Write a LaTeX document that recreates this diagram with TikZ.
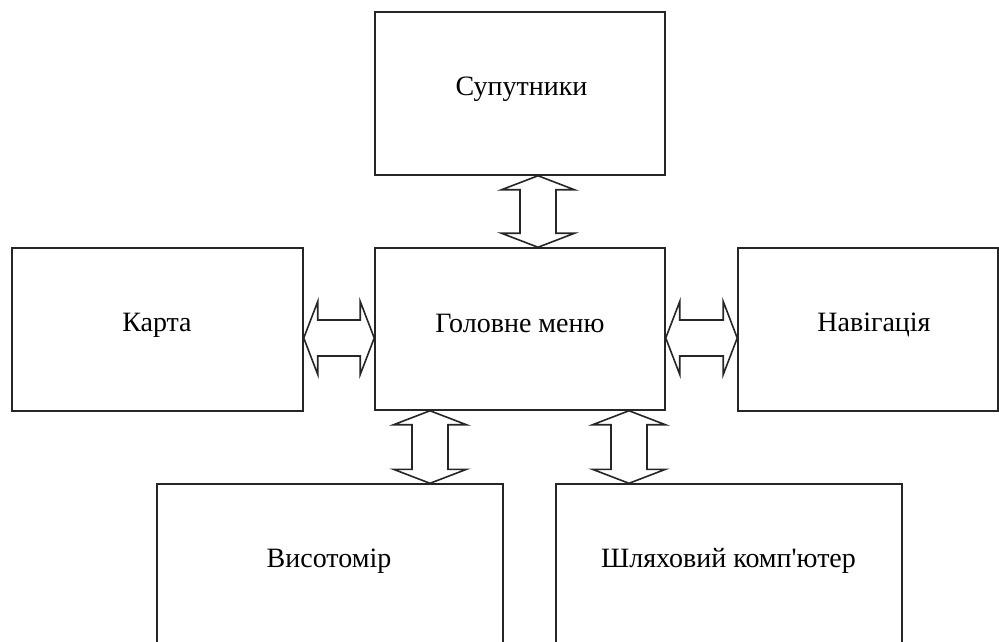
\documentclass[tikz,border=0pt]{standalone}
\usepackage{fontspec}
\setmainfont{Liberation Serif}[Ligatures=TeXOff]
\usetikzlibrary{calc}
\begin{document}
\begin{tikzpicture}[x=1pt,y=-1pt,
  blk/.style={draw=black!85,line width=1.5pt,rectangle,inner sep=0pt,fill=white},
  lbl/.style={anchor=base,inner sep=0pt,font=\fontsize{28}{32}\selectfont},
  barrow/.style={draw=black!85,line width=1.6pt,line join=miter,fill=white}]
\useasboundingbox (0,0) rectangle (999,641);
\clip (0,0) rectangle (999,641);
% boxes
\node[blk,minimum width=290pt,minimum height=163pt] (sat) at (520,93.5) {};
\node[blk,minimum width=290pt,minimum height=162pt] (menu) at (520,329) {};
\node[blk,minimum width=291pt,minimum height=163pt] (karta) at (157.5,329.5) {};
\node[blk,minimum width=260pt,minimum height=163pt] (nav) at (868,329.5) {};
\node[blk,minimum width=346pt,minimum height=165pt,anchor=north] (vys) at (330,483.3) {};
\node[blk,minimum width=346pt,minimum height=165pt,anchor=north] (shl) at (729,483.3) {};
% labels
\node[lbl] (tsat) at (521.5,95) {Супутники};
\node[lbl] (tmenu) at (520,332) {Головне меню};
\node[lbl] (tkarta) at (157,331) {Карта};
\node[lbl] (tnav) at (874,331) {Навігація};
\node[lbl] (tvys) at (329,567) {Висотомір};
\node[lbl] (tshl) at (728.5,567) {Шляховий комп'ютер};
% helper coordinates for arrow axes
\coordinate (ax1) at (538,0);
\coordinate (ax2) at (430,0);
\coordinate (ax3) at (629,0);
\coordinate (ay) at (0,338);
% double block arrows
\newcommand{\vdarrow}[2]{%
  \draw[barrow] (#1) -- ++(36.5,14) -- ++(-18.5,0) -- ($(#2)+(18,-14)$) -- ++(18.5,0)
    -- (#2) -- ++(-36.5,-14) -- ++(18.5,0) -- ($(#1)+(-18,14)$) -- ++(-18.5,0) -- cycle;}
\newcommand{\hdarrow}[2]{%
  \draw[barrow] (#1) -- ++(14,-36.5) -- ++(0,18.5) -- ($(#2)+(-14,-18)$) -- ++(0,-18.5)
    -- (#2) -- ++(-14,36.5) -- ++(0,-18.5) -- ($(#1)+(14,18)$) -- ++(0,18.5) -- cycle;}
\coordinate (a1t) at (sat.south -| ax1);
\coordinate (a1b) at (menu.north -| ax1);
\vdarrow{a1t}{a1b}
\coordinate (a2t) at (menu.south -| ax2);
\coordinate (a2b) at (vys.north -| ax2);
\vdarrow{a2t}{a2b}
\coordinate (a3t) at (menu.south -| ax3);
\coordinate (a3b) at (shl.north -| ax3);
\vdarrow{a3t}{a3b}
\coordinate (h1l) at (karta.east |- ay);
\coordinate (h1r) at (menu.west |- ay);
\hdarrow{h1l}{h1r}
\coordinate (h2l) at (menu.east |- ay);
\coordinate (h2r) at (nav.west |- ay);
\hdarrow{h2l}{h2r}
\end{tikzpicture}
\end{document}
